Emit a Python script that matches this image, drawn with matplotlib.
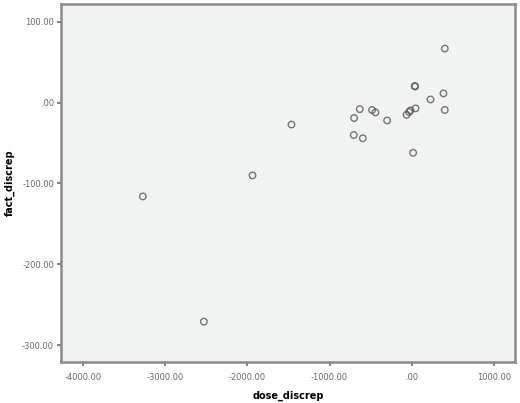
import matplotlib
matplotlib.use("Agg")
import matplotlib.pyplot as plt
from matplotlib.ticker import FuncFormatter

# values
dose_discrep = [-3272, -2530, -1938, -1464, -706, -702, -633, -596, -483, -442,
                -300, -64, -33, -16, 45, 36, 40, 16, 227, 385, 401, 401]
fact_discrep = [-116, -271, -90, -27, -40, -19, -8, -44, -9, -12,
                -22, -15, -11.5, -9.5, -7, 20.7, 20, -62, 4, 11.5, -9, 67]

x_ticks = [-4000, -3000, -2000, -1000, 0, 1000]
y_ticks = [100, 0, -100, -200, -300]


def spss_fmt(v, pos=None):
    s = "%.2f" % v
    if s.startswith("0."):
        s = s[1:]
    elif s.startswith("-0."):
        s = "-" + s[2:]
    return s


fig = plt.figure(figsize=(5.2, 4.03), dpi=100)
ax = fig.add_axes([0.1173, 0.1017, 0.873, 0.888])
ax.set_facecolor("#f1f2f2")

ax.scatter(dose_discrep, fact_discrep, s=22, facecolors="none",
           edgecolors="#555555", linewidths=1.0, alpha=0.8)

ax.set_xlim(-4268, 1255)
ax.set_ylim(-321, 122)
ax.set_xticks(x_ticks)
ax.set_yticks(y_ticks)
ax.xaxis.set_major_formatter(FuncFormatter(spss_fmt))
ax.yaxis.set_major_formatter(FuncFormatter(spss_fmt))
ax.tick_params(labelsize=6, colors="#666666", length=3, width=1.2)
ax.tick_params(axis="x", pad=5)
ax.tick_params(axis="y", pad=2)

for side in ["left", "bottom", "top", "right"]:
    ax.spines[side].set_color("#8a8a8a")
    ax.spines[side].set_linewidth(1.8)

ax.set_xlabel("dose_discrep", fontsize=7, fontweight="bold", labelpad=6)
ax.set_ylabel("fact_discrep", fontsize=7, fontweight="bold", labelpad=5)

plt.savefig("out.png", dpi=100)
